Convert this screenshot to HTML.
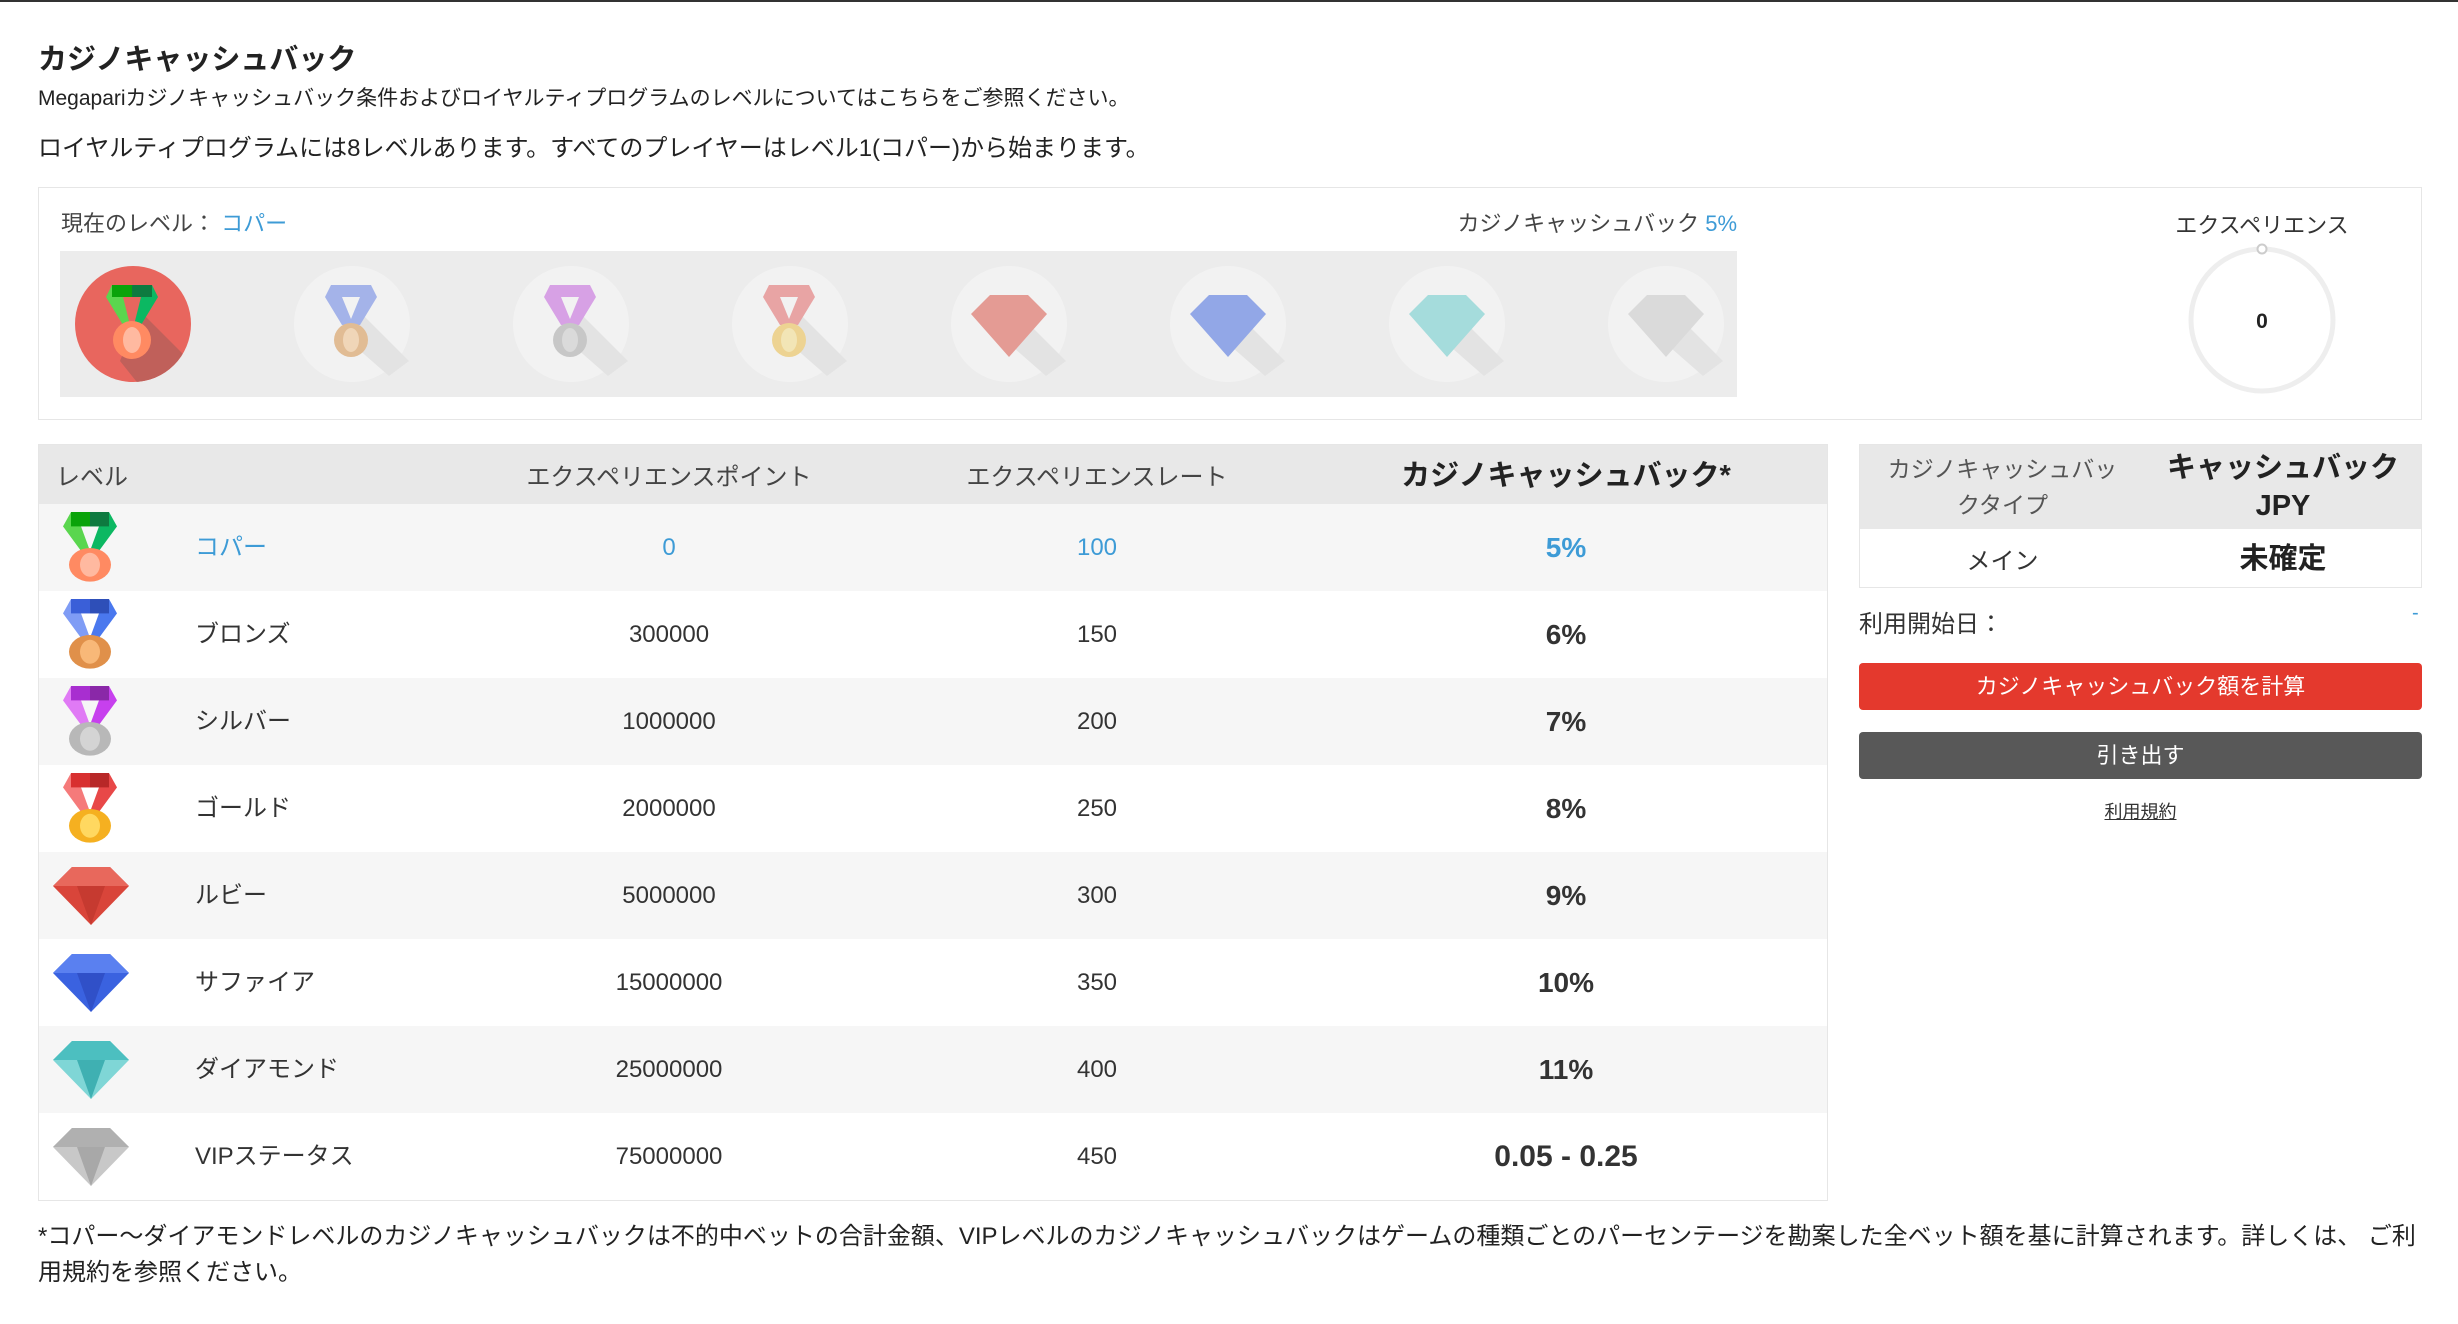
<!DOCTYPE html>
<html><head><meta charset="utf-8">
<style>
*{margin:0;padding:0;box-sizing:border-box}
body{width:2458px;height:1324px;background:#fff;position:relative;overflow:hidden;font-family:"Liberation Sans","Noto Sans CJK JP",sans-serif;color:#333}
.a{position:absolute;white-space:nowrap}
.blue{color:#3d9bd6}
.tbl{position:absolute;left:38px;top:444px;width:1790px;height:757px;border:1px solid #e6e6e6}
.row{position:absolute;left:0;width:1788px;height:87px}
.row .c{position:absolute;top:0;height:87px;line-height:87px;font-size:24px;text-align:center}
.icon{position:absolute;left:24px;top:0}
</style></head><body>
<div style="position:absolute;left:0;top:0;width:2458px;height:2px;background:#333"></div>
<div class="a" style="left:38px;top:36px;font-size:29px;font-weight:bold;color:#222">カジノキャッシュバック</div>
<div class="a" style="left:38px;top:82px;font-size:21px;color:#222">Megapariカジノキャッシュバック条件およびロイヤルティプログラムのレベルについてはこちらをご参照ください。</div>
<div class="a" style="left:38px;top:128px;font-size:24px;color:#222">ロイヤルティプログラムには8レベルあります。すべてのプレイヤーはレベル1(コパー)から始まります。</div>

<div style="position:absolute;left:38px;top:187px;width:2384px;height:233px;border:1px solid #e6e6e6"></div>
<div class="a" style="left:61px;top:206px;font-size:22px;color:#444">現在のレベル： <span class="blue">コパー</span></div>
<div class="a" style="left:1400px;top:206px;width:337px;text-align:right;font-size:22px;color:#444">カジノキャッシュバック <span class="blue">5%</span></div>
<div style="position:absolute;left:60px;top:251px;width:1677px;height:146px;background:#ececec"></div>

<svg style="position:absolute;left:60px;top:251px" width="1677" height="146" viewBox="0 0 1677 146">
<defs>
<clipPath id="c0"><circle cx="73" cy="73" r="58"/></clipPath>
</defs>
<circle cx="73" cy="73" r="58" fill="#e8665e"/>
<polygon clip-path="url(#c0)" points="80,60 160,140 100,160 60,110" fill="#c0605a"/>
<g transform="translate(46,34)">
<polygon points="0,12 6,0 26,0 26,12 17,12 24,40 17,40" fill="#5ad64e"/>
<polygon points="52,12 46,0 26,0 26,12 35,12 28,40 35,40" fill="#0cb862"/>
<rect x="6" y="0" width="20" height="12" fill="#0aa30a"/><rect x="26" y="0" width="20" height="12" fill="#0e7a40"/>
<circle cx="26" cy="55" r="19" fill="#ff8a62"/><ellipse cx="26" cy="55" rx="9" ry="13" fill="#ffb9a0"/>
</g>
<g opacity="0.55">
<g transform="translate(219,0)"><circle cx="73" cy="73" r="58" fill="#f8f8f8"/><polygon points="80,60 130,110 110,125 70,90" fill="#ddd"/>
<g transform="translate(46,34)"><polygon points="0,12 6,0 46,0 52,12 35,40 17,40" fill="#6a85e8"/><polygon points="17,12 35,12 26,34" fill="#f8f8f8"/><circle cx="26" cy="55" r="17" fill="#d9954e"/><ellipse cx="26" cy="55" rx="8" ry="12" fill="#f5c58e"/></g></g>
<g transform="translate(438,0)"><circle cx="73" cy="73" r="58" fill="#f8f8f8"/><polygon points="80,60 130,110 110,125 70,90" fill="#ddd"/>
<g transform="translate(46,34)"><polygon points="0,12 6,0 46,0 52,12 35,40 17,40" fill="#c765e0"/><polygon points="17,12 35,12 26,34" fill="#f8f8f8"/><circle cx="26" cy="55" r="17" fill="#aaa"/><ellipse cx="26" cy="55" rx="8" ry="12" fill="#ccc"/></g></g>
<g transform="translate(657,0)"><circle cx="73" cy="73" r="58" fill="#f8f8f8"/><polygon points="80,60 130,110 110,125 70,90" fill="#ddd"/>
<g transform="translate(46,34)"><polygon points="0,12 6,0 46,0 52,12 35,40 17,40" fill="#e56a6a"/><polygon points="17,12 35,12 26,34" fill="#f8f8f8"/><circle cx="26" cy="55" r="17" fill="#eec04a"/><ellipse cx="26" cy="55" rx="8" ry="12" fill="#f8e08a"/></g></g>
<g transform="translate(876,0)"><circle cx="73" cy="73" r="58" fill="#f8f8f8"/><polygon points="80,60 130,110 110,125 70,90" fill="#ddd"/>
<polygon transform="translate(35,44)" points="19,0 57,0 76,19 38,62 0,19" fill="#de5a4e"/></g>
<g transform="translate(1095,0)"><circle cx="73" cy="73" r="58" fill="#f8f8f8"/><polygon points="80,60 130,110 110,125 70,90" fill="#ddd"/>
<polygon transform="translate(35,44)" points="19,0 57,0 76,19 38,62 0,19" fill="#4a6fe3"/></g>
<g transform="translate(1314,0)"><circle cx="73" cy="73" r="58" fill="#f8f8f8"/><polygon points="80,60 130,110 110,125 70,90" fill="#ddd"/>
<polygon transform="translate(35,44)" points="19,0 57,0 76,19 38,62 0,19" fill="#6ccfcf"/></g>
<g transform="translate(1533,0)"><circle cx="73" cy="73" r="58" fill="#f8f8f8"/><polygon points="80,60 130,110 110,125 70,90" fill="#ddd"/>
<polygon transform="translate(35,44)" points="19,0 57,0 76,19 38,62 0,19" fill="#ccc"/></g>
</g>
</svg>

<div class="a" style="left:2162px;top:208px;width:200px;text-align:center;font-size:22px;color:#333">エクスペリエンス</div>
<svg style="position:absolute;left:2182px;top:240px" width="160" height="160">
<circle cx="80" cy="80" r="71" fill="none" stroke="#eee" stroke-width="5"/>
<circle cx="80" cy="9" r="4.5" fill="#fff" stroke="#ccc" stroke-width="2"/>
<text x="80" y="88" text-anchor="middle" font-size="21" font-weight="bold" fill="#222" font-family="Liberation Sans">0</text>
</svg>

<div class="tbl">
<div class="row" style="top:0;height:59px;background:#e8e8e8">
<div class="a" style="left:17px;top:12px;font-size:24px;color:#444">レベル</div>
<div class="a" style="left:430px;top:12px;width:400px;text-align:center;font-size:24px;color:#444">エクスペリエンスポイント</div>
<div class="a" style="left:858px;top:12px;width:400px;text-align:center;font-size:24px;color:#444">エクスペリエンスレート</div>
<div class="a" style="left:1227px;top:7px;width:600px;text-align:center;font-size:29px;font-weight:bold;color:#222">カジノキャッシュバック*</div>
</div>

<div class="row" style="top:59px;background:#f6f6f6">
<svg class="icon" style="top:8px" width="54" height="72" viewBox="0 0 54 90" preserveAspectRatio="none"><polygon points="0,18 8,0 27,0 27,18 18,18 28,52 20,52" fill="#5ad64e"/><polygon points="54,18 46,0 27,0 27,18 36,18 26,52 34,52" fill="#0cb862"/><rect x="8" width="19" height="18" fill="#0aa30a"/><rect x="27" width="19" height="18" fill="#0e7a40"/><circle cx="27" cy="66" r="21" fill="#ff8a62"/><ellipse cx="27" cy="66" rx="10" ry="15" fill="#ffb9a0"/></svg>
<div class="c blue" style="left:156px;text-align:left">コパー</div>
<div class="c blue" style="left:430px;width:400px">0</div>
<div class="c blue" style="left:858px;width:400px">100</div>
<div class="c blue" style="left:1227px;width:600px;font-size:28px;font-weight:bold">5%</div>
</div>

<div class="row" style="top:146px;background:#fff">
<svg class="icon" style="top:8px" width="54" height="72" viewBox="0 0 54 90" preserveAspectRatio="none"><polygon points="0,18 8,0 27,0 27,18 18,18 28,52 20,52" fill="#7f9cf5"/><polygon points="54,18 46,0 27,0 27,18 36,18 26,52 34,52" fill="#4a78ee"/><rect x="8" width="19" height="18" fill="#3a5fd8"/><rect x="27" width="19" height="18" fill="#2e4fb8"/><circle cx="27" cy="66" r="21" fill="#e0904a"/><ellipse cx="27" cy="66" rx="10" ry="15" fill="#f8b878"/></svg>
<div class="c" style="left:156px;text-align:left">ブロンズ</div>
<div class="c" style="left:430px;width:400px">300000</div>
<div class="c" style="left:858px;width:400px">150</div>
<div class="c" style="left:1227px;width:600px;font-size:28px;font-weight:bold">6%</div>
</div>

<div class="row" style="top:233px;background:#f6f6f6">
<svg class="icon" style="top:8px" width="54" height="72" viewBox="0 0 54 90" preserveAspectRatio="none"><polygon points="0,18 8,0 27,0 27,18 18,18 28,52 20,52" fill="#e07af5"/><polygon points="54,18 46,0 27,0 27,18 36,18 26,52 34,52" fill="#c740ee"/><rect x="8" width="19" height="18" fill="#a82ed0"/><rect x="27" width="19" height="18" fill="#8a28a8"/><circle cx="27" cy="66" r="21" fill="#b8b8b8"/><ellipse cx="27" cy="66" rx="10" ry="15" fill="#d4d4d4"/></svg>
<div class="c" style="left:156px;text-align:left">シルバー</div>
<div class="c" style="left:430px;width:400px">1000000</div>
<div class="c" style="left:858px;width:400px">200</div>
<div class="c" style="left:1227px;width:600px;font-size:28px;font-weight:bold">7%</div>
</div>

<div class="row" style="top:320px;background:#fff">
<svg class="icon" style="top:8px" width="54" height="72" viewBox="0 0 54 90" preserveAspectRatio="none"><polygon points="0,18 8,0 27,0 27,18 18,18 28,52 20,52" fill="#f57a7a"/><polygon points="54,18 46,0 27,0 27,18 36,18 26,52 34,52" fill="#e84848"/><rect x="8" width="19" height="18" fill="#d83030"/><rect x="27" width="19" height="18" fill="#b82828"/><circle cx="27" cy="66" r="21" fill="#f5b020"/><ellipse cx="27" cy="66" rx="10" ry="15" fill="#ffd860"/></svg>
<div class="c" style="left:156px;text-align:left">ゴールド</div>
<div class="c" style="left:430px;width:400px">2000000</div>
<div class="c" style="left:858px;width:400px">250</div>
<div class="c" style="left:1227px;width:600px;font-size:28px;font-weight:bold">8%</div>
</div>

<div class="row" style="top:407px;background:#f6f6f6">
<svg class="icon" style="left:14px;top:15px" width="76" height="58" viewBox="0 0 76 58"><polygon points="19,0 57,0 76,19 38,58 0,19" fill="#d9453a"/><polygon points="19,0 57,0 76,19 0,19" fill="#e8685c"/><polygon points="24,19 52,19 38,58" fill="#c63a30"/></svg>
<div class="c" style="left:156px;text-align:left">ルビー</div>
<div class="c" style="left:430px;width:400px">5000000</div>
<div class="c" style="left:858px;width:400px">300</div>
<div class="c" style="left:1227px;width:600px;font-size:28px;font-weight:bold">9%</div>
</div>

<div class="row" style="top:494px;background:#fff">
<svg class="icon" style="left:14px;top:15px" width="76" height="58" viewBox="0 0 76 58"><polygon points="19,0 57,0 76,19 38,58 0,19" fill="#3a62e0"/><polygon points="19,0 57,0 76,19 0,19" fill="#5a80f0"/><polygon points="24,19 52,19 38,58" fill="#3050c8"/></svg>
<div class="c" style="left:156px;text-align:left">サファイア</div>
<div class="c" style="left:430px;width:400px">15000000</div>
<div class="c" style="left:858px;width:400px">350</div>
<div class="c" style="left:1227px;width:600px;font-size:28px;font-weight:bold">10%</div>
</div>

<div class="row" style="top:581px;background:#f6f6f6">
<svg class="icon" style="left:14px;top:15px" width="76" height="58" viewBox="0 0 76 58"><polygon points="19,0 57,0 76,19 38,58 0,19" fill="#7fd6d6"/><polygon points="19,0 57,0 76,19 0,19" fill="#4cbfc0"/><polygon points="24,19 52,19 38,58" fill="#3fb0b2"/></svg>
<div class="c" style="left:156px;text-align:left">ダイアモンド</div>
<div class="c" style="left:430px;width:400px">25000000</div>
<div class="c" style="left:858px;width:400px">400</div>
<div class="c" style="left:1227px;width:600px;font-size:28px;font-weight:bold">11%</div>
</div>

<div class="row" style="top:668px;background:#fff">
<svg class="icon" style="left:14px;top:15px" width="76" height="58" viewBox="0 0 76 58"><polygon points="19,0 57,0 76,19 38,58 0,19" fill="#c8c8c8"/><polygon points="19,0 57,0 76,19 0,19" fill="#b0b0b0"/><polygon points="24,19 52,19 38,58" fill="#a8a8a8"/></svg>
<div class="c" style="left:156px;text-align:left">VIPステータス</div>
<div class="c" style="left:430px;width:400px">75000000</div>
<div class="c" style="left:858px;width:400px">450</div>
<div class="c" style="left:1227px;width:600px;font-size:30px;font-weight:bold">0.05 - 0.25</div>
</div>
</div>

<div style="position:absolute;left:1859px;top:444px;width:563px;height:144px;border:1px solid #e6e6e6">
<div style="position:absolute;left:0;top:0;width:561px;height:84px;background:#e8e8e8"></div>
<div class="a" style="left:0;top:6px;width:285px;text-align:center;font-size:23px;line-height:36px;color:#555;white-space:normal;padding:0 20px">カジノキャッシュバックタイプ</div>
<div class="a" style="left:285px;top:4px;width:276px;text-align:center;font-size:29px;line-height:38px;font-weight:bold;color:#222;white-space:normal">キャッシュバック JPY</div>
<div class="a" style="left:0;top:96px;width:285px;text-align:center;font-size:24px;color:#333">メイン</div>
<div class="a" style="left:285px;top:90px;width:276px;text-align:center;font-size:29px;font-weight:bold;color:#222">未確定</div>
</div>
<div class="a" style="left:1859px;top:604px;font-size:24px;color:#333">利用開始日：</div>
<div class="a" style="left:2412px;top:602px;font-size:20px" ><span class="blue">-</span></div>
<div class="a" style="left:1859px;top:663px;width:563px;height:47px;background:#e4392d;border-radius:4px;color:#fff;text-align:center;line-height:47px;font-size:22px">カジノキャッシュバック額を計算</div>
<div class="a" style="left:1859px;top:732px;width:563px;height:47px;background:#585858;border-radius:4px;color:#fff;text-align:center;line-height:47px;font-size:22px">引き出す</div>
<div class="a" style="left:1859px;top:798px;width:563px;text-align:center;font-size:18px;color:#333;text-decoration:underline">利用規約</div>

<div class="a" style="left:38px;top:1216px;font-size:24px;color:#222">*コパー～ダイアモンドレベルのカジノキャッシュバックは不的中ベットの合計金額、VIPレベルのカジノキャッシュバックはゲームの種類ごとのパーセンテージを勘案した全ベット額を基に計算されます。詳しくは、 ご利</div>
<div class="a" style="left:38px;top:1252px;font-size:24px;color:#222">用規約を参照ください。</div>
</body></html>
